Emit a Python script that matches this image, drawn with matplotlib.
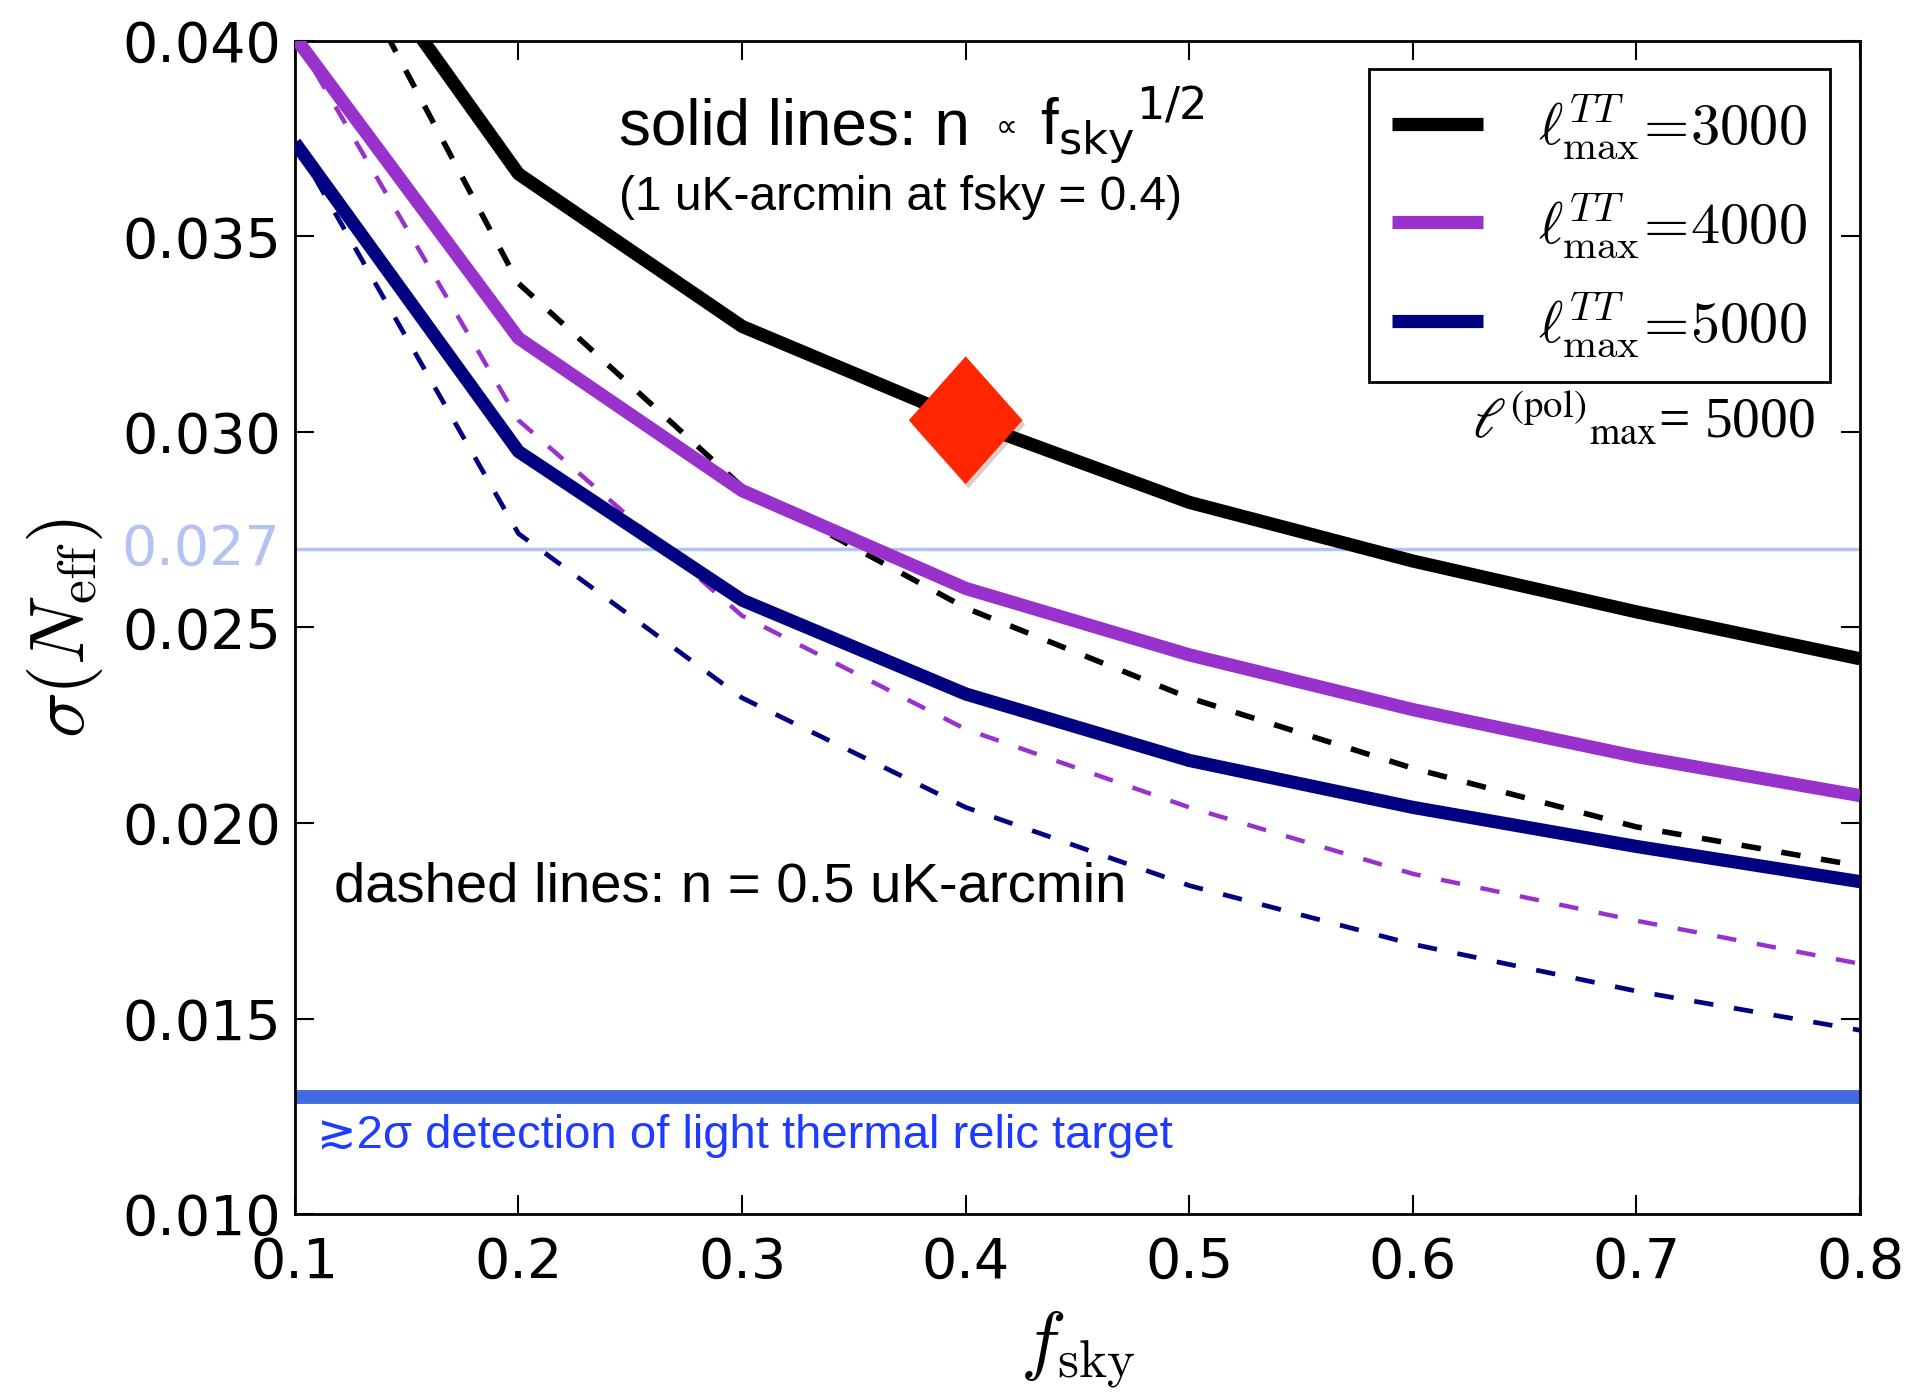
import numpy as np
import matplotlib
matplotlib.use("Agg")
import matplotlib.pyplot as plt
import matplotlib.transforms as mtransforms
import matplotlib.patheffects as pe

plt.rcParams['font.family'] = 'DejaVu Sans'
plt.rcParams['lines.scale_dashes'] = False

# sky fraction grid
fsky = [0.1, 0.2, 0.3, 0.4, 0.5, 0.6, 0.7, 0.8]

# sigma(N_eff), noise scaling as fsky^(1/2)
sol_3000 = [0.0446, 0.0366, 0.0327, 0.0303, 0.0282, 0.0267, 0.0254, 0.0242]
sol_4000 = [0.0401, 0.0324, 0.0285, 0.0260, 0.0243, 0.0229, 0.0217, 0.0207]
sol_5000 = [0.0374, 0.0295, 0.0257, 0.0233, 0.0216, 0.0204, 0.0194, 0.0185]

# sigma(N_eff), fixed noise 0.5 uK-arcmin
dash_3000 = [0.0446, 0.0338, 0.0286, 0.0255, 0.0232, 0.0214, 0.0199, 0.0189]
dash_4000 = [0.0401, 0.0303, 0.0253, 0.0224, 0.0204, 0.0187, 0.0175, 0.0164]
dash_5000 = [0.0374, 0.0274, 0.0232, 0.0204, 0.0184, 0.0169, 0.0157, 0.0147]

lmax_tt = [3000, 4000, 5000]
ref_point = (0.4, 0.0303)
target = 0.013
stage3 = 0.027

colors = ['black', '#9932cc', '#000080']

fig = plt.figure(figsize=(19.15, 13.98), dpi=100)
ax = fig.add_axes([0.154, 0.1316, 0.8173, 0.8391])

ax.axhline(stage3, color='#b3c3f2', lw=2.5, zorder=1)
ax.axhline(target, color='#4169e1', lw=10, zorder=1)

for ys, c, l in zip([sol_3000, sol_4000, sol_5000], colors, lmax_tt):
    ax.plot(fsky, ys, color=c, lw=9.5, solid_capstyle='butt',
            label=r'$\ell^{TT}_{\rm max}\!=\!%d$' % l, zorder=3)
for ys, c, w in zip([dash_3000, dash_4000, dash_5000], colors, [4, 3.2, 3.4]):
    ax.plot(fsky, ys, color=c, lw=w, dashes=(14, 15), zorder=2)

diamond = [(0, 1), (0.89, 0), (0, -1), (-0.89, 0), (0, 1)]
ax.plot([ref_point[0]], [ref_point[1]], marker=diamond, ms=92, color='#ff2600',
        mec='none', ls='none', zorder=5,
        path_effects=[pe.SimplePatchShadow(offset=(2, -3), alpha=0.2), pe.Normal()])

ax.set_xlim(0.1, 0.8)
ax.set_ylim(0.010, 0.040)
ax.set_xticks(np.arange(0.1, 0.81, 0.1))
ax.set_xticklabels(['%.1f' % v for v in np.arange(0.1, 0.81, 0.1)])
ax.set_yticks(np.arange(0.010, 0.0401, 0.005))
ax.set_yticklabels(['%.3f' % v for v in np.arange(0.010, 0.0401, 0.005)])
ax.tick_params(direction='in', length=14, width=1.5, labelsize=40,
               top=True, right=True)
ax.tick_params(axis='y', pad=10)
ax.tick_params(axis='x', pad=16)
for s in ax.spines.values():
    s.set_linewidth(2)

trans = mtransforms.blended_transform_factory(ax.transAxes, ax.transData)
ax.text(-0.0095, stage3, '0.027', color='#b3c3f2', fontsize=40,
        ha='right', va='center', transform=trans)

ax.set_xlabel(r'$f_{\rm sky}$', fontsize=55, math_fontfamily='cm', labelpad=14)
ax.set_ylabel(r'$\sigma(N_{\rm eff})$', fontsize=55, math_fontfamily='cm', labelpad=12)

# "solid lines: n ∝ fsky^1/2" built from pieces so the ∝ can be small
def px_to_axes_x(px):
    abox = ax.get_window_extent()
    return (px - abox.x0) / abox.width

t1 = ax.text(0.207, 0.912, 'solid lines: n', family='Liberation Sans', fontsize=46,
             transform=ax.transAxes, va='baseline')
fig.canvas.draw()
x2 = px_to_axes_x(t1.get_window_extent().x1 + 26)
t2 = ax.text(x2, 0.919, '\u221d', family='DejaVu Sans', fontsize=22,
             transform=ax.transAxes, va='baseline')
fig.canvas.draw()
x3 = px_to_axes_x(t2.get_window_extent().x1 + 22)
ax.text(x3, 0.912, r'f$_{\rm sky}$$^{\rm 1/2}$', family='Liberation Sans',
        fontsize=46, math_fontfamily='dejavusans', transform=ax.transAxes,
        va='baseline')

ax.text(0.207, 0.856, '(1 uK-arcmin at fsky = 0.4)', family='Liberation Sans',
        fontsize=34.5, transform=ax.transAxes, va='baseline')
ax.text(0.0249, 0.2668, 'dashed lines: n = 0.5 uK-arcmin', family='Liberation Sans',
        fontsize=40.5, transform=ax.transAxes, va='baseline')
ax.text(0.014, 0.0563, '\u22732\u03c3 detection of light thermal relic target',
        family=['Liberation Sans', 'DejaVu Sans'], fontsize=34, color='#1e3cff',
        transform=ax.transAxes, va='baseline')
ax.text(0.971, 0.6616, r'$\ell^{\rm (pol)}{}_{\rm max}$= 5000', family='Liberation Serif',
        fontsize=40, math_fontfamily='stix', transform=ax.transAxes,
        ha='right', va='baseline')

leg = ax.legend(loc='upper right', bbox_to_anchor=(0.981, 0.976), borderaxespad=0,
                handlelength=1.55, handletextpad=0.95, labelspacing=0.52,
                fancybox=False, framealpha=1,
                prop={'math_fontfamily': 'cm', 'size': 42})
leg.get_frame().set_edgecolor('black')
leg.get_frame().set_linewidth(2)

fig.savefig('out.png', dpi=100)
